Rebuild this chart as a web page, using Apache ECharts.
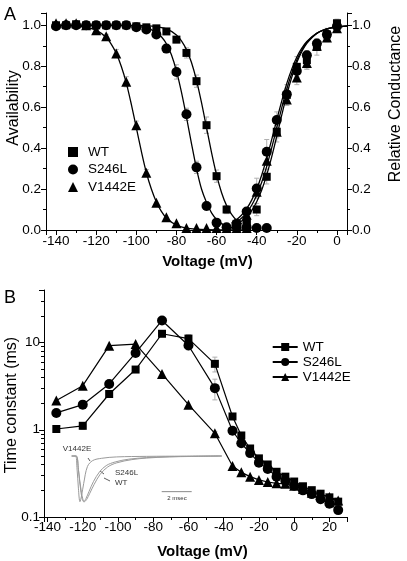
<!DOCTYPE html>
<html><head><meta charset="utf-8">
<script src="https://cdn.jsdelivr.net/npm/echarts@6/dist/echarts.min.js"></script>
<style>html,body{margin:0;padding:0;background:#fff}#c{width:407px;height:561px}</style>
</head><body><div id="c"></div>
<script>
// ---------- Panel A: availability (inactivation) ----------
const V_INACT = [-140,-135,-130,-125,-120,-115,-110,-105,-100,-95,-90,-85,-80,-75,-70,-65,-60,-55,-50,-45,-40,-35];
const WT_INACT     = [1.0,1.0,1.005,1.0,1.0,1.0,1.0,1.0,0.995,0.99,0.985,0.97,0.93,0.865,0.727,0.512,0.263,0.10,0.03,0.03,null,null];
const S246L_INACT  = [0.995,1.0,1.0,1.0,1.0,1.0,1.0,1.0,0.99,0.98,0.955,0.886,0.772,0.565,0.306,0.117,0.036,0.013,0.015,0.012,0.01,0.01];
const V1442E_INACT = [1.01,1.01,1.01,1.0,0.976,0.946,0.862,0.724,0.512,0.28,0.133,0.062,0.033,0.01,0.01,0.01,0.01,0.01,0.01,0.01,null,null];
const WT_INACT_SD     = [0,0,0,0,0,0,0,0,0,0,0,0.01,0.015,0.025,0.03,0.04,0.03,0.02,0,0,0,0];
const S246L_INACT_SD  = [0,0,0,0,0,0,0,0,0,0,0.01,0.02,0.035,0.03,0.03,0.02,0,0,0,0,0,0];
const V1442E_INACT_SD = [0,0,0,0,0,0.01,0.02,0.025,0.02,0.015,0,0,0,0,0,0,0,0,0,0,0,0];

// ---------- Panel A: relative conductance (activation) ----------
const V_ACT = [-50,-45,-40,-35,-30,-25,-20,-15,-10,-5,0];
const WT_ACT     = [0.025,0.035,0.10,0.26,0.48,0.66,0.797,0.83,0.894,0.955,1.01];
const S246L_ACT  = [0.03,0.09,0.203,0.382,0.537,0.663,0.777,0.854,0.911,0.955,0.995];
const V1442E_ACT = [0.03,0.075,0.187,0.338,0.48,0.638,0.745,0.816,0.90,0.94,0.985];
const WT_ACT_SD     = [0,0.02,0.03,0.035,0.05,0.05,0.05,0.045,0.04,0.03,0.02];
const S246L_ACT_SD  = [0,0.02,0.05,0.06,0.04,0.03,0.03,0.02,0.02,0.02,0];
const V1442E_ACT_SD = [0,0,0.03,0.04,0.03,0.03,0.035,0.03,0.02,0.02,0];

// ---------- Panel A: fitted curves ----------
const FIT_WT_INACT_V = [-140,-110,-100,-95,-90,-85,-80,-77.5,-75,-72.5,-70,-67.5,-65,-62.5,-60,-57.5,-55,-52.5,-50,-47.5];
const FIT_WT_INACT   = [1.0,1.0,0.999,0.998,0.993,0.982,0.953,0.924,0.881,0.818,0.731,0.622,0.5,0.378,0.269,0.182,0.119,0.076,0.047,0.029];
const FIT_S246L_INACT_V = [-140,-110,-100,-95,-90,-87.5,-85,-82.5,-80,-77.5,-75,-72.5,-70,-67.5,-65,-62.5,-60,-57.5,-55,-52.5,-50];
const FIT_S246L_INACT   = [1.0,0.9995,0.996,0.987,0.966,0.944,0.91,0.856,0.777,0.673,0.552,0.422,0.30,0.20,0.134,0.084,0.052,0.031,0.019,0.011,0.007];
const FIT_V1442E_INACT_V = [-140,-130,-125,-120,-115,-112.5,-110,-107.5,-105,-102.5,-100,-97.5,-95,-92.5,-90,-87.5,-85,-80,-75,-70,-65,-60,-50,-45];
const FIT_V1442E_INACT   = [1.0,0.996,0.99,0.976,0.94,0.908,0.863,0.80,0.719,0.615,0.5,0.385,0.281,0.20,0.137,0.091,0.059,0.024,0.0097,0.004,0.0016,0.0006,0.0,0.0];
const FIT_ACT_V = [-52.5,-50,-47.5,-45,-42.5,-40,-37.5,-35,-32.5,-30,-27.5,-25,-22.5,-20,-17.5,-15,-10,-5,0,5];
const FIT_WT_ACT     = [0.0195,0.029,0.044,0.065,0.095,0.138,0.195,0.269,0.358,0.458,0.562,0.661,0.747,0.818,0.872,0.912,0.96,0.982,0.992,0.9965];
const FIT_S246L_ACT  = [0.035,0.051,0.073,0.104,0.146,0.20,0.269,0.351,0.443,0.538,0.631,0.716,0.787,0.845,0.888,0.921,0.962,0.982,0.992,0.996];
const FIT_V1442E_ACT = [0.0274,0.040,0.0585,0.0846,0.121,0.17,0.233,0.311,0.402,0.5,0.598,0.689,0.767,0.83,0.879,0.917,0.961,0.982,0.992,0.996];

// ---------- Panel B: time constants ----------
const V_TAU = [-135,-120,-105,-90,-75,-60,-45,-35,-30,-25,-20,-15,-10,-5,0,5,10,15,20,25];
const WT_TAU     = [1.02,1.11,2.57,4.9,12.6,11.1,5.7,1.42,0.86,0.61,0.47,0.40,0.33,0.29,0.255,0.225,0.203,0.185,0.168,0.15];
const S246L_TAU  = [1.56,1.94,3.35,7.6,17.9,9.25,3.0,0.975,0.70,0.54,0.42,0.355,0.29,0.26,0.228,0.202,0.183,0.16,0.142,0.12];
const V1442E_TAU = [2.17,3.2,9.2,9.6,4.37,1.94,0.91,0.385,0.325,0.29,0.266,0.252,0.243,0.24,0.228,0.21,0.19,0.18,0.17,0.155];
const WT_TAU_SD     = [0,0.1,0,0,0,1.2,1.1,0.1,0,0,0,0,0,0,0,0,0,0,0,0];
const S246L_TAU_SD  = [0,0,0,0,0,1.0,0.8,0.08,0,0,0,0,0,0,0,0,0,0,0,0];
const V1442E_TAU_SD = [0,0,0,0,0,0,0.05,0,0,0,0,0,0,0,0,0,0,0,0,0];

// ---------- Inset: current traces (ms, normalized current) ----------
const V1442E_TRACE = [[0,0],[0.25,0],[0.35,-0.25],[0.45,-0.72],[0.55,-1.0],[0.65,-0.88],[0.8,-0.6],[1.05,-0.23],[1.4,-0.1],[2.0,-0.05],[3.0,-0.02],[5,-0.008],[7.5,-0.003],[10,0]];
const S246L_TRACE  = [[0,0],[0.3,0],[0.45,-0.3],[0.62,-0.8],[0.8,-1.0],[0.95,-0.93],[1.15,-0.78],[1.45,-0.56],[1.85,-0.35],[2.3,-0.21],[2.9,-0.13],[3.8,-0.07],[5,-0.035],[6.5,-0.015],[8,-0.007],[10,0]];
const WT_TRACE     = [[0,0],[0.3,0],[0.45,-0.3],[0.65,-0.8],[0.85,-1.0],[1.0,-0.95],[1.2,-0.82],[1.5,-0.62],[1.9,-0.4],[2.4,-0.24],[3.0,-0.15],[4,-0.08],[5,-0.045],[6.5,-0.02],[8,-0.01],[10,0]];
const SCALE_BAR = [[6.0,-0.78],[8.0,-0.78]];

const FONT = '"Liberation Sans", Arial, Helvetica, sans-serif';
const pair = (xs, ys) => xs.map((x, i) => [x, ys[i]]).filter(p => p[1] != null);
const errs = (xs, ys, sd) => xs.map((x, i) => [x, ys[i], sd[i]]).filter(p => p[1] != null && p[2] > 0).map(p => [p[0], p[1] - p[2], p[1] + p[2]]);

function errRender(params, api) {
  const x = api.value(0), lo = api.value(1), hi = api.value(2);
  const p1 = api.coord([x, lo]), p2 = api.coord([x, hi]);
  const w = 2.5, st = {stroke: '#b0b0b0', lineWidth: 1};
  return {type: 'group', children: [
    {type: 'line', shape: {x1: p1[0], y1: p1[1], x2: p2[0], y2: p2[1]}, style: st},
    {type: 'line', shape: {x1: p1[0]-w, y1: p1[1], x2: p1[0]+w, y2: p1[1]}, style: st},
    {type: 'line', shape: {x1: p2[0]-w, y1: p2[1], x2: p2[0]+w, y2: p2[1]}, style: st}
  ]};
}

const axisCommon = {
  axisLine: {onZero: false, lineStyle: {color: '#000', width: 1}},
  axisTick: {show: true, inside: false, length: 5, lineStyle: {color: '#000'}},
  minorTick: {show: true, splitNumber: 2, length: 3, lineStyle: {color: '#000'}},
  splitLine: {show: false},
  axisLabel: {color: '#000', fontSize: 13.5, fontFamily: FONT}
};
function ax(extra) { return echarts.util.merge(JSON.parse(JSON.stringify(axisCommon)), extra, true); }

const mk = {WT: 'rect', S246L: 'circle', V1442E: 'triangle'};
const sz = {WT: 8, S246L: 10, V1442E: 10};

const series = [];
series.push({type: 'custom', name: 'errA', xAxisIndex: 0, yAxisIndex: 0, renderItem: errRender, z: 1, silent: true,
  data: [].concat(errs(V_INACT, WT_INACT, WT_INACT_SD), errs(V_INACT, S246L_INACT, S246L_INACT_SD), errs(V_INACT, V1442E_INACT, V1442E_INACT_SD),
                 errs(V_ACT, WT_ACT, WT_ACT_SD), errs(V_ACT, S246L_ACT, S246L_ACT_SD), errs(V_ACT, V1442E_ACT, V1442E_ACT_SD))});
series.push({type: 'custom', name: 'errB', xAxisIndex: 1, yAxisIndex: 2, renderItem: errRender, z: 1, silent: true,
  data: [].concat(errs(V_TAU, WT_TAU, WT_TAU_SD), errs(V_TAU, S246L_TAU, S246L_TAU_SD), errs(V_TAU, V1442E_TAU, V1442E_TAU_SD))});

const fitLine = (name, xs, ys, yi) => ({type: 'line', name, xAxisIndex: 0, yAxisIndex: yi, data: pair(xs, ys), smooth: 0.3,
  showSymbol: false, symbol: 'none', lineStyle: {color: '#000', width: 1.3}, z: 2, silent: true});
series.push(fitLine('fitWTi', FIT_WT_INACT_V, FIT_WT_INACT, 0));
series.push(fitLine('fitSi', FIT_S246L_INACT_V, FIT_S246L_INACT, 0));
series.push(fitLine('fitVi', FIT_V1442E_INACT_V, FIT_V1442E_INACT, 0));
series.push(fitLine('fitWTa', FIT_ACT_V, FIT_WT_ACT, 1));
series.push(fitLine('fitSa', FIT_ACT_V, FIT_S246L_ACT, 1));
series.push(fitLine('fitVa', FIT_ACT_V, FIT_V1442E_ACT, 1));

const sc = (name, key, xs, ys, yi) => ({type: 'scatter', name, xAxisIndex: 0, yAxisIndex: yi, data: pair(xs, ys),
  symbol: mk[key], symbolSize: sz[key], itemStyle: {color: '#000', opacity: 1}, z: 3, clip: false});
series.push(sc('WT', 'WT', V_INACT, WT_INACT, 0));
series.push(sc('S246L', 'S246L', V_INACT, S246L_INACT, 0));
series.push(sc('V1442E', 'V1442E', V_INACT, V1442E_INACT, 0));
series.push(sc('WT_a', 'WT', V_ACT, WT_ACT, 1));
series.push(sc('S246L_a', 'S246L', V_ACT, S246L_ACT, 1));
series.push(sc('V1442E_a', 'V1442E', V_ACT, V1442E_ACT, 1));

const ln = (name, key, ys) => ({type: 'line', name, xAxisIndex: 1, yAxisIndex: 2, data: pair(V_TAU, ys),
  symbol: mk[key], symbolSize: sz[key], showSymbol: true, showAllSymbol: true, lineStyle: {color: '#000', width: 1.2},
  itemStyle: {color: '#000', opacity: 1}, z: 3, clip: false});
series.push(ln('B_WT', 'WT', WT_TAU));
series.push(ln('B_S246L', 'S246L', S246L_TAU));
series.push(ln('B_V1442E', 'V1442E', V1442E_TAU));

const tr = (name, d) => ({type: 'line', name, xAxisIndex: 2, yAxisIndex: 3, data: d, smooth: 0.35, showSymbol: false, symbol: 'none',
  lineStyle: {color: '#9a9a9a', width: 1}, z: 2, silent: true, clip: false});
series.push(tr('trV', V1442E_TRACE));
series.push(tr('trS', S246L_TRACE));
series.push(tr('trW', WT_TRACE));
series.push({type: 'line', name: 'bar', xAxisIndex: 2, yAxisIndex: 3, data: SCALE_BAR, showSymbol: false, symbol: 'none',
  lineStyle: {color: '#8a8a8a', width: 1}, silent: true, clip: false});

const logLabel = v => {
  if (Math.abs(v - 0.1) < 1e-6) return '0.1';
  if (Math.abs(v - 1) < 1e-6) return '1';
  if (Math.abs(v - 10) < 1e-6) return '10';
  return '';
};
const decLabel = v => (Math.abs(v*5 - Math.round(v*5)) < 1e-6 ? v.toFixed(1) : '');

const txt = (text, x, y, font, extra, rot) => Object.assign({type: 'text', x, y, silent: true, rotation: rot || 0,
  style: Object.assign({text, font, fill: '#000', textAlign: 'center', textVerticalAlign: 'middle'}, extra || {})});

const option = {
  animation: false,
  backgroundColor: '#fff',
  grid: [
    {left: 46, top: 13, width: 301, height: 217},
    {left: 44, top: 290, width: 303, height: 227},
    {left: 71.7, top: 456, width: 150, height: 45.7}
  ],
  xAxis: [
    ax({gridIndex: 0, type: 'value', min: -145, max: 5, splitNumber: 7, axisLabel: {margin: 4, showMinLabel: false, showMaxLabel: false}}),
    ax({gridIndex: 1, type: 'value', min: -142, max: 30, splitNumber: 9, axisLabel: {margin: 3, showMinLabel: false, showMaxLabel: false}}),
    {gridIndex: 2, type: 'value', min: 0, max: 10, show: false}
  ],
  yAxis: [
    ax({gridIndex: 0, type: 'value', position: 'left', min: 0, max: 1.06, splitNumber: 5,
        axisLabel: {margin: 5, showMaxLabel: false, formatter: decLabel}}),
    ax({gridIndex: 0, type: 'value', position: 'right', min: 0, max: 1.06, splitNumber: 5,
        axisLabel: {margin: 5, showMaxLabel: false, formatter: decLabel}}),
    ax({gridIndex: 1, type: 'log', logBase: 10, min: 0.1, max: 40, minorTick: {splitNumber: 9},
        axisLabel: {margin: 4, showMaxLabel: false, formatter: logLabel}}),
    {gridIndex: 2, type: 'value', min: -1, max: 0, show: false}
  ],
  legend: [
    {data: ['WT', 'S246L', 'V1442E'], orient: 'vertical', left: 63, top: 140, itemWidth: 10, itemHeight: 10, itemGap: 3.5,
     textStyle: {fontSize: 13.5, fontFamily: FONT, color: '#000', padding: [0, 0, 0, 5]}, selectedMode: false},
    {data: ['B_WT', 'B_S246L', 'B_V1442E'], orient: 'vertical', left: 266.7, top: 335, itemWidth: 25, itemHeight: 10, itemGap: 1,
     formatter: n => n.slice(2), textStyle: {fontSize: 13.5, fontFamily: FONT, color: '#000'}, selectedMode: false}
  ],
  graphic: [
    txt('A', 10, 15, '18px ' + FONT),
    txt('B', 10, 298, '18px ' + FONT),
    txt('Availability', 14, 108, '16px ' + FONT, {}, Math.PI / 2),
    txt('Relative Conductance', 396, 104, '16px ' + FONT, {}, Math.PI / 2),
    txt('Time constant (ms)', 12, 405, '16px ' + FONT, {}, Math.PI / 2),
    txt('Voltage (mV)', 207.5, 262, 'bold 15px ' + FONT),
    txt('Voltage (mV)', 202.5, 552, 'bold 15px ' + FONT),
    txt('V1442E', 77, 449, '8px ' + FONT, {fill: '#333'}),
    txt('S246L', 115, 473, '8px ' + FONT, {fill: '#333', textAlign: 'left'}),
    txt('WT', 115, 483, '8px ' + FONT, {fill: '#333', textAlign: 'left'}),
    txt('2 msec', 177, 498, '6px ' + FONT, {fill: '#333'}),
    {type: 'line', silent: true, shape: {x1: 88, y1: 458, x2: 90, y2: 461}, style: {stroke: '#333', lineWidth: 0.8}},
    {type: 'line', silent: true, shape: {x1: 100, y1: 471, x2: 104, y2: 474}, style: {stroke: '#333', lineWidth: 0.8}},
    {type: 'line', silent: true, shape: {x1: 104, y1: 478, x2: 110, y2: 481}, style: {stroke: '#333', lineWidth: 0.8}}
  ],
  series
};

const chart = echarts.init(document.getElementById('c'), null, {renderer: 'canvas'});
chart.setOption(option);
</script></body></html>
